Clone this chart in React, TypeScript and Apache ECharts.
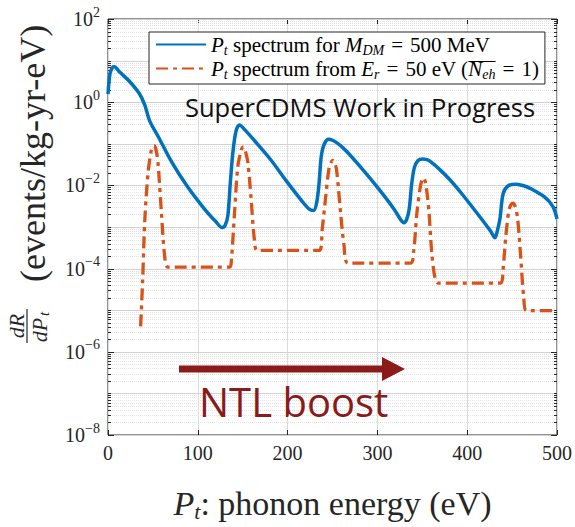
import React, { useEffect, useRef } from "react";
import * as echarts from "echarts";

// Phonon-energy spectrum, P_t (eV) -> dR/dP_t (events/kg-yr-eV)
const dmSpectrum: [number, number][] = [
  [0, 1.56], [2.2, 4.85], [5, 6.9], [7, 7.15], [13, 5.3], [24, 3.14], [35, 1.6],
  [41, 0.85], [46.5, 0.35], [56, 0.148], [71, 0.0363], [89, 0.009], [107.5, 0.0027],
  [120, 0.00135], [127, 0.00097], [130.5, 0.0011], [133.5, 0.0019], [136, 0.01],
  [139, 0.06], [142.5, 0.2], [146.5, 0.285], [153, 0.21], [163, 0.12], [181, 0.042],
  [199, 0.0125], [216, 0.0042], [224, 0.0027], [229, 0.0025], [232.5, 0.004],
  [235, 0.011], [237.5, 0.05], [241, 0.1], [246, 0.128], [255, 0.105], [265, 0.068],
  [283, 0.025], [301, 0.0085], [318, 0.0028], [326, 0.0015], [329.5, 0.00127],
  [332.5, 0.0015], [335.5, 0.0028], [338, 0.01], [341, 0.026], [345, 0.039],
  [350.5, 0.043], [357, 0.04], [368, 0.0256], [381, 0.0135], [394, 0.0063],
  [408, 0.0026], [420, 0.0012], [426, 0.0008], [431, 0.00055], [433.5, 0.0008],
  [436.5, 0.0016], [440, 0.0063], [445.7, 0.0098], [455, 0.0107], [463, 0.0098],
  [471.5, 0.0082], [486, 0.0053], [495.5, 0.0031], [500, 0.00156],
];

const recoilSpectrum: [number, number][] = [
  [36.3, 4.1e-6], [38.5, 4.7e-5], [41, 1.5e-3], [44.7, 0.021], [48.2, 0.07],
  [50, 0.086], [51.3, 0.09], [52.6, 0.083], [54.2, 0.06], [55.8, 0.033],
  [59.5, 0.0022], [63.2, 1.9e-4], [66.9, 1.09e-4], [135.5, 1.09e-4], [137.3, 1.5e-4],
  [140.8, 2e-3], [144.5, 0.028], [148.2, 0.07], [149.6, 0.081], [150.9, 0.084],
  [152.3, 0.076], [154, 0.055], [155.8, 0.035], [159.3, 0.005], [163, 5e-4],
  [166.5, 2.75e-4], [235.5, 2.75e-4], [238.6, 9e-4], [242.4, 0.0053], [246.1, 0.0256],
  [248.5, 0.036], [250.4, 0.0397], [252.3, 0.035], [254.5, 0.024], [259, 0.0022],
  [262.7, 3.85e-4], [267.5, 1.35e-4], [336.7, 1.35e-4], [340.4, 2.7e-4], [344, 2.2e-3],
  [347.7, 9e-3], [349.6, 0.0135], [351.4, 0.0151], [353.2, 0.0125], [355.3, 0.0065],
  [357.5, 2.2e-3], [360.6, 2.3e-4], [364.4, 5.6e-5], [368, 4.5e-5], [437.5, 4.5e-5],
  [440, 1e-4], [443, 6e-4], [446.5, 2.6e-3], [449, 3.5e-3], [451, 3.75e-3],
  [453.2, 3.2e-3], [456, 1.7e-3], [459.5, 2e-4], [463, 2e-5], [466, 9.8e-6],
  [500, 9.8e-6],
];

const seriesNames = [
  "Pt spectrum for M_DM = 500 MeV",
  "Pt spectrum from E_r = 50 eV (N_eh = 1)",
];
const legendLabels = [
  "{i|P}{sub|t} spectrum for {i|M}{sub|DM}{eq|=}500 MeV",
  "{i|P}{sub|t} spectrum from {i|E}{sub|r}{eq|=}50 eV ({i|N}{sub|eh}{eq|=}1)",
];

const xRange = [0, 500];
const xStep = 100;
const yRange = [1e-8, 1e2];
const decadeExponents = [-8, -7, -6, -5, -4, -3, -2, -1, 0, 1];
const decadeMultipliers = [1, 2, 3, 4, 5, 6, 7, 8, 9];

const SERIF = "'Liberation Serif', 'Times New Roman', serif";
const INK = "#262626";
const BLUE = "#0072BD";
const ORANGE = "#D95319";
const MAROON = "#8B1A1A";

const LEG = { left: 149, top: 32, pad: [2, 6, 3, 6], icon: 50, font: 21, sub: 14, eqPad: 7 };

// horizontal log grid levels (every decade plus 2..9 multiples)
const gridLevels: number[] = [];
decadeExponents.forEach((e) =>
  decadeMultipliers.forEach((m) => {
    const v = m * Math.pow(10, e);
    if (v > yRange[0] && v < yRange[1]) gridLevels.push(v);
  })
);
gridLevels.push(yRange[0], yRange[1]);

const expLabel = (v: number) => {
  const e = Math.round(Math.log10(v));
  return `{b|10}{s|${e < 0 ? "\u2212" + -e : e}}`;
};

function textWidth(font: string, s: string) {
  const ctx = document.createElement("canvas").getContext("2d");
  if (!ctx) return s.length * 8;
  ctx.font = font;
  return ctx.measureText(s).width;
}

// position of the bar drawn over N_eh in the second legend row
function overbar() {
  const roman = `${LEG.font}px ${SERIF}`;
  const ital = `italic ${LEG.font}px ${SERIF}`;
  const sub = `italic ${LEG.sub}px ${SERIF}`;
  let x = LEG.left + LEG.pad[3] + LEG.icon + 5;
  x += textWidth(ital, "P") + textWidth(sub, "t") + textWidth(roman, " spectrum from ");
  x += textWidth(ital, "E") + textWidth(sub, "r") + textWidth(roman, "=") + 2 * LEG.eqPad;
  x += textWidth(roman, "50 eV (");
  const w = textWidth(ital, "N") + textWidth(sub, "eh");
  return { x1: x + 1, x2: x + w + 1 };
}

function buildOption(): echarts.EChartsOption {
  const bar = overbar();
  return {
    animation: false,
    backgroundColor: "#ffffff",
    grid: {
      left: 108,
      top: 19,
      width: 451,
      height: 439,
      show: true,
      borderColor: INK,
      borderWidth: 1,
      backgroundColor: "transparent",
    },
    legend: {
      data: seriesNames,
      orient: "vertical",
      left: LEG.left,
      top: LEG.top,
      padding: LEG.pad,
      itemGap: 1,
      itemWidth: LEG.icon,
      itemHeight: 14,
      backgroundColor: "#ffffff",
      borderColor: INK,
      borderWidth: 1,
      selectedMode: false,
      itemStyle: { opacity: 0 },
      formatter: (name: string) => legendLabels[seriesNames.indexOf(name)],
      textStyle: {
        fontFamily: SERIF,
        fontSize: LEG.font,
        color: "#000",
        rich: {
          i: { fontFamily: SERIF, fontStyle: "italic", fontSize: LEG.font, color: "#000" },
          sub: {
            fontFamily: SERIF,
            fontStyle: "italic",
            fontSize: LEG.sub,
            color: "#000",
            padding: [11, 0, 0, 0],
          },
          eq: {
            fontFamily: SERIF,
            fontSize: LEG.font,
            color: "#000",
            padding: [0, LEG.eqPad, 0, LEG.eqPad],
          },
        },
      },
    },
    xAxis: [
      {
        type: "value",
        min: xRange[0],
        max: xRange[1],
        interval: xStep,
        axisLine: { show: false },
        axisTick: { show: true, inside: true, length: 5, lineStyle: { color: INK } },
        splitLine: { show: true, lineStyle: { color: "#dcdcdc", width: 1 } },
        axisLabel: { fontFamily: SERIF, fontSize: 20, color: INK, margin: 8 },
        name: "{i|P}{sub|t}: phonon energy (eV)",
        nameLocation: "middle",
        nameGap: 49,
        nameTextStyle: {
          fontFamily: SERIF,
          fontSize: 34,
          color: INK,
          rich: {
            i: { fontFamily: SERIF, fontStyle: "italic", fontSize: 34, color: INK },
            sub: {
              fontFamily: SERIF,
              fontStyle: "italic",
              fontSize: 22,
              color: INK,
              padding: [16, 0, 0, 0],
            },
          },
        },
      },
      {
        type: "value",
        position: "top",
        min: xRange[0],
        max: xRange[1],
        interval: xStep,
        axisLine: { show: false },
        axisTick: { show: true, inside: true, length: 5, lineStyle: { color: INK } },
        axisLabel: { show: false },
        splitLine: { show: false },
      },
    ],
    yAxis: {
      type: "log",
      logBase: 10,
      min: yRange[0],
      max: yRange[1],
      interval: 2,
      axisLine: { show: false },
      axisTick: { show: false },
      splitLine: { show: false },
      axisLabel: {
        margin: 8,
        formatter: (v: number) => {
          const e = Math.round(Math.log10(v));
          return e % 2 === 0 ? expLabel(v) : "";
        },
        rich: {
          b: { fontFamily: SERIF, fontSize: 20, color: INK },
          s: { fontFamily: SERIF, fontSize: 14, color: INK, padding: [0, 0, 14, 0] },
        },
      },
    },
    graphic: [
      // y-axis title: dR/dP_t (events/kg-yr-eV), reading bottom to top
      {
        type: "group",
        x: 27,
        y: 326,
        rotation: Math.PI / 2,
        silent: true,
        z: 10,
        children: [
          {
            type: "text",
            x: 0,
            y: -11,
            style: {
              text: "dR",
              font: `italic 22px ${SERIF}`,
              fill: INK,
              align: "center",
              verticalAlign: "middle",
            },
          },
          {
            type: "line",
            shape: { x1: -17, y1: 0, x2: 17, y2: 0 },
            style: { stroke: INK, lineWidth: 1.2 },
          },
          {
            type: "text",
            x: -4,
            y: 12,
            style: {
              text: "dP",
              font: `italic 22px ${SERIF}`,
              fill: INK,
              align: "center",
              verticalAlign: "middle",
            },
          },
          {
            type: "text",
            x: 10,
            y: 17,
            style: {
              text: "t",
              font: `italic 15px ${SERIF}`,
              fill: INK,
              align: "left",
              verticalAlign: "middle",
            },
          },
          {
            type: "text",
            x: 44,
            y: 6,
            style: {
              text: "(events/kg-yr-eV)",
              font: `36px ${SERIF}`,
              fill: INK,
              align: "left",
              verticalAlign: "middle",
            },
          },
        ],
      },
      // bar over N_eh in the second legend entry
      {
        type: "line",
        silent: true,
        shape: { x1: bar.x1, y1: 61.5, x2: bar.x2, y2: 61.5 },
        style: { stroke: "#000", lineWidth: 1 },
        z: 100,
      },
      {
        type: "text",
        left: 185,
        top: 94,
        silent: true,
        z: 10,
        style: {
          text: "SuperCDMS Work in Progress",
          font: "25.5px 'Open Sans', sans-serif",
          fill: "#111",
        },
      },
      // NTL boost arrow
      {
        type: "line",
        silent: true,
        z: 10,
        shape: { x1: 179, y1: 369, x2: 386, y2: 369 },
        style: { stroke: MAROON, lineWidth: 7 },
      },
      {
        type: "polygon",
        silent: true,
        z: 10,
        shape: { points: [[382, 357], [405, 369], [382, 381]] },
        style: { fill: MAROON },
      },
      {
        type: "text",
        left: 199,
        top: 381,
        silent: true,
        z: 10,
        style: {
          text: "NTL boost",
          font: "40px 'Open Sans', sans-serif",
          fill: MAROON,
        },
      },
    ],
    series: [
      {
        type: "custom",
        name: "log grid",
        silent: true,
        z: 1,
        data: gridLevels.map((v) => [xRange[0], v]),
        encode: { x: 0, y: 1 },
        renderItem: (params: any, api: any) => {
          const v = api.value(1) as number;
          const pt = api.coord([xRange[0], v]);
          const cs = params.coordSys;
          const e = Math.log10(v);
          const decade = Math.abs(e - Math.round(e)) < 1e-6;
          const major = decade && Math.round(e) % 2 === 0;
          const y = Math.round(pt[1]) + 0.5;
          const left = cs.x;
          const right = cs.x + cs.width;
          const tick = major ? 6 : 3;
          return {
            type: "group",
            children: [
              {
                type: "line",
                shape: { x1: left, y1: y, x2: right, y2: y },
                style: {
                  stroke: decade ? "#d2d2d2" : "#e3e3e3",
                  lineWidth: 1,
                  lineDash: decade ? null : [1, 1],
                },
              },
              {
                type: "line",
                shape: { x1: left, y1: y, x2: left + tick, y2: y },
                style: { stroke: INK, lineWidth: 1 },
              },
              {
                type: "line",
                shape: { x1: right - tick, y1: y, x2: right, y2: y },
                style: { stroke: INK, lineWidth: 1 },
              },
            ],
          };
        },
      },
      {
        type: "line",
        name: seriesNames[0],
        data: dmSpectrum,
        symbol: "none",
        smooth: 0.3,
        z: 3,
        lineStyle: { color: BLUE, width: 3.5 },
        itemStyle: { color: BLUE },
      },
      {
        type: "line",
        name: seriesNames[1],
        data: recoilSpectrum,
        symbol: "none",
        smooth: 0.3,
        z: 4,
        lineStyle: { color: ORANGE, width: 3.3, type: [12, 5, 4, 5] },
        itemStyle: { color: ORANGE },
      },
    ],
  };
}

export default function App() {
  const ref = useRef<HTMLDivElement>(null);
  useEffect(() => {
    if (!ref.current) return;
    const chart = echarts.init(ref.current, null, { renderer: "svg" });
    chart.setOption(buildOption());
    return () => chart.dispose();
  }, []);
  return (
    <div
      ref={ref}
      style={{
        position: "absolute",
        left: 0,
        top: 0,
        width: 575,
        height: 527,
        background: "#fff",
      }}
    />
  );
}
